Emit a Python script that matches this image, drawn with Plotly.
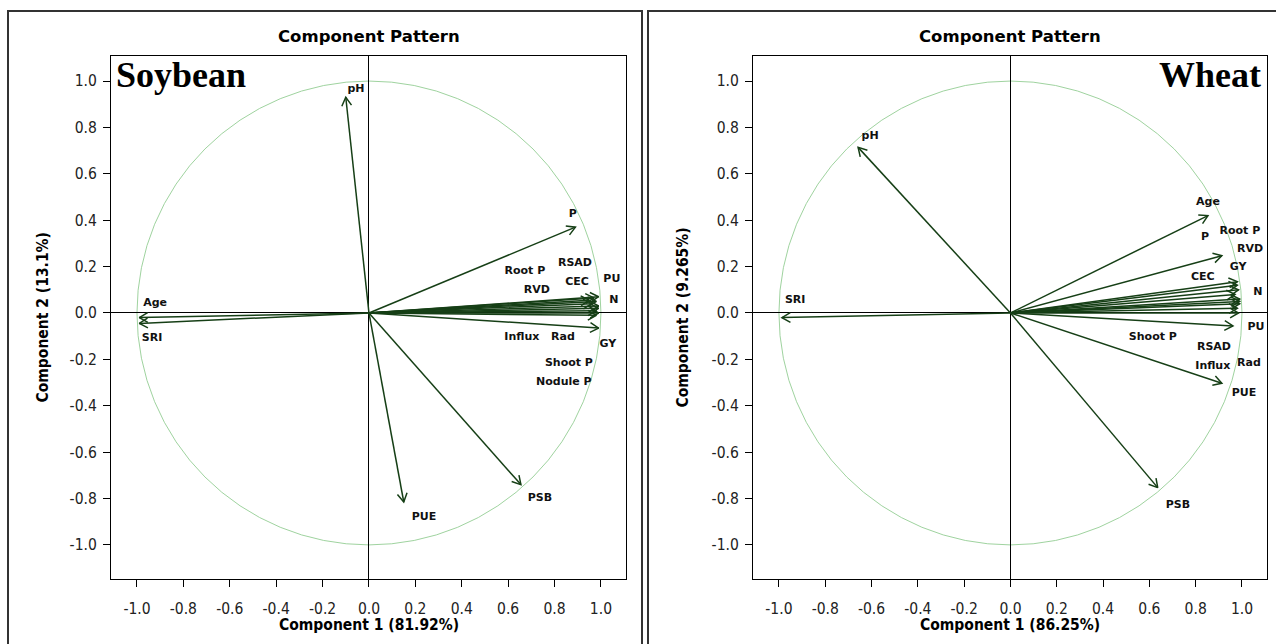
import numpy as np
import plotly.graph_objects as go

# ---------------- data ----------------
soy_vars = ["pH", "P", "Root P", "RSAD", "CEC", "PU", "RVD", "N", "Influx", "Rad",
            "GY", "Shoot P", "Nodule P", "PUE", "PSB", "Age", "SRI"]
soy_pc1 = [-0.10, 0.89, 0.95, 0.97, 0.98, 0.99, 0.96, 0.99, 0.98, 0.99,
           0.99, 0.99, 0.98, 0.15, 0.655, -0.99, -0.99]
soy_pc2 = [0.93, 0.37, 0.055, 0.065, 0.05, 0.07, 0.04, 0.03, 0.01, 0.0,
           -0.065, 0.02, -0.01, -0.815, -0.74, -0.02, -0.045]
soy_lab_x = [-0.056, 0.879, 0.672, 0.888, 0.897, 1.047, 0.724, 1.056, 0.659, 0.836,
             1.03, 0.862, 0.84, 0.237, 0.737, -0.922, -0.935]
soy_lab_y = [0.966, 0.427, 0.181, 0.216, 0.134, 0.147, 0.099, 0.056, -0.103, -0.103,
             -0.134, -0.216, -0.297, -0.879, -0.797, 0.043, -0.108]

wht_vars = ["pH", "SRI", "Age", "P", "Root P", "RVD", "GY", "CEC", "N", "PU",
            "Shoot P", "RSAD", "Influx", "Rad", "PUE", "PSB"]
wht_pc1 = [-0.658, -0.987, 0.853, 0.913, 0.98, 0.985, 0.98, 0.97, 0.99, 0.961,
           0.98, 0.99, 0.985, 0.99, 0.913, 0.636]
wht_pc2 = [0.714, -0.02, 0.42, 0.247, 0.12, 0.10, 0.135, 0.08, 0.06, -0.056,
           0.02, 0.04, 0.0, 0.05, -0.303, -0.753]
wht_lab_x = [-0.606, -0.93, 0.853, 0.84, 0.991, 1.035, 0.983, 0.831, 1.069, 1.06,
             0.615, 0.879, 0.874, 1.03, 1.009, 0.723]
wht_lab_y = [0.762, 0.056, 0.476, 0.325, 0.351, 0.273, 0.199, 0.156, 0.091, -0.06,
             -0.104, -0.147, -0.229, -0.216, -0.346, -0.831]

tick_vals = [-1.0, -0.8, -0.6, -0.4, -0.2, 0.0, 0.2, 0.4, 0.6, 0.8, 1.0]
tick_text = ["-1.0", "-0.8", "-0.6", "-0.4", "-0.2", "0.0", "0.2", "0.4", "0.6", "0.8", "1.0"]

panels = [
    dict(name="Soybean", xlab="Component 1 (81.92%)", ylab="Component 2 (13.1%)",
         vars=soy_vars, pc1=soy_pc1, pc2=soy_pc2, lx=soy_lab_x, ly=soy_lab_y),
    dict(name="Wheat", xlab="Component 1 (86.25%)", ylab="Component 2 (9.265%)",
         vars=wht_vars, pc1=wht_pc1, pc2=wht_pc2, lx=wht_lab_x, ly=wht_lab_y),
]

W, H = 1276, 644
x_doms = [[111 / W, 626 / W], [753 / W, 1267 / W]]
y_dom = [1 - 579 / H, 1 - 56 / H]
x_rng = [-1.112, 1.108]
y_rng = [-1.147, 1.108]

ARROW = "#163f16"
NARROW = "DejaVu Sans Condensed, Liberation Sans Narrow, Liberation Sans"
fig = go.Figure()
annotations = []
shapes = []
tick_font = dict(family=NARROW, size=15.5, color="#222")

for i, p in enumerate(panels):
    sfx = "" if i == 0 else "2"
    xr, yr = "x" + sfx, "y" + sfx
    xs, ys = [], []
    hl, ha = 0.042, np.radians(30)
    for x, y in zip(p["pc1"], p["pc2"]):
        th = np.arctan2(y, x)
        xs += [0, x, None, x - hl * np.cos(th + ha), x, x - hl * np.cos(th - ha), None]
        ys += [0, y, None, y - hl * np.sin(th + ha), y, y - hl * np.sin(th - ha), None]
    fig.add_trace(go.Scatter(x=xs, y=ys, mode="lines", xaxis=xr, yaxis=yr,
                             line=dict(color=ARROW, width=1.5), hoverinfo="skip",
                             showlegend=False))
    fig.add_trace(go.Scatter(x=p["lx"], y=p["ly"], text=p["vars"], mode="text",
                             xaxis=xr, yaxis=yr, showlegend=False,
                             textfont=dict(family="DejaVu Sans", size=11, color="#111", weight="bold")))
    shapes.append(dict(type="circle", xref=xr, yref=yr, x0=-1, y0=-1, x1=1, y1=1,
                       line=dict(color="#9fd39f", width=1), layer="below"))
    ax = dict(domain=x_doms[i], range=x_rng, tickvals=tick_vals, ticktext=tick_text,
              showgrid=False, zeroline=True, zerolinecolor="#000", zerolinewidth=1,
              showline=True, linecolor="#000", linewidth=1.2, mirror=True,
              ticks="outside", ticklen=7, tickcolor="#000", tickfont=tick_font,
              ticklabelstandoff=8, anchor=yr, fixedrange=True)
    ay = dict(domain=y_dom, range=y_rng, tickvals=tick_vals, ticktext=tick_text,
              showgrid=False, zeroline=True, zerolinecolor="#000", zerolinewidth=1,
              showline=True, linecolor="#000", linewidth=1.2, mirror=True,
              ticks="outside", ticklen=7, tickcolor="#000", tickfont=tick_font,
              ticklabelstandoff=3, anchor=xr, fixedrange=True)
    fig.update_layout(**{"xaxis" + sfx: ax, "yaxis" + sfx: ay})
    cx = (x_doms[i][0] + x_doms[i][1]) / 2
    annotations.append(dict(text="<b>Component Pattern</b>", xref="paper", yref="paper",
                            x=cx, y=1 - 37 / H, xanchor="center", yanchor="middle",
                            showarrow=False,
                            font=dict(family="DejaVu Sans", size=16.5, color="#000")))
    annotations.append(dict(text="<b>" + p["xlab"] + "</b>", xref="paper", yref="paper",
                            x=cx, y=1 - 625 / H, xanchor="center", yanchor="middle",
                            showarrow=False,
                            font=dict(family=NARROW, size=15.5, color="#000")))
    annotations.append(dict(text="<b>" + p["ylab"] + "</b>", xref="paper", yref="paper",
                            x=(43 if i == 0 else 683) / W, y=(y_dom[0] + y_dom[1]) / 2,
                            xanchor="center", yanchor="middle",
                            textangle=-90, showarrow=False,
                            font=dict(family=NARROW, size=15.5, color="#000")))
    if i == 0:
        annotations.append(dict(text="<b>Soybean</b>", xref="paper", yref="paper",
                                x=114 / W, y=1 - 75 / H, xanchor="left", yanchor="middle",
                                showarrow=False,
                                font=dict(family="Liberation Serif", size=36, color="#000")))
    else:
        annotations.append(dict(text="<b>Wheat</b>", xref="paper", yref="paper",
                                x=1263 / W, y=1 - 75 / H, xanchor="right", yanchor="middle",
                                showarrow=False,
                                font=dict(family="Liberation Serif", size=36, color="#000")))

# panel borders
shapes.append(dict(type="rect", xref="paper", yref="paper", x0=8 / W, x1=642 / W,
                   y0=-0.05, y1=1 - 11 / H, line=dict(color="#333", width=2)))
shapes.append(dict(type="rect", xref="paper", yref="paper", x0=648 / W, x1=1.05,
                   y0=-0.05, y1=1 - 11 / H, line=dict(color="#333", width=2)))

fig.update_layout(width=W, height=H, margin=dict(l=0, r=0, t=0, b=0),
                  paper_bgcolor="white", plot_bgcolor="white",
                  annotations=annotations, shapes=shapes, showlegend=False)
fig.write_html("out.html", config={"displayModeBar": False},
               post_script="document.body.style.margin='0';")
